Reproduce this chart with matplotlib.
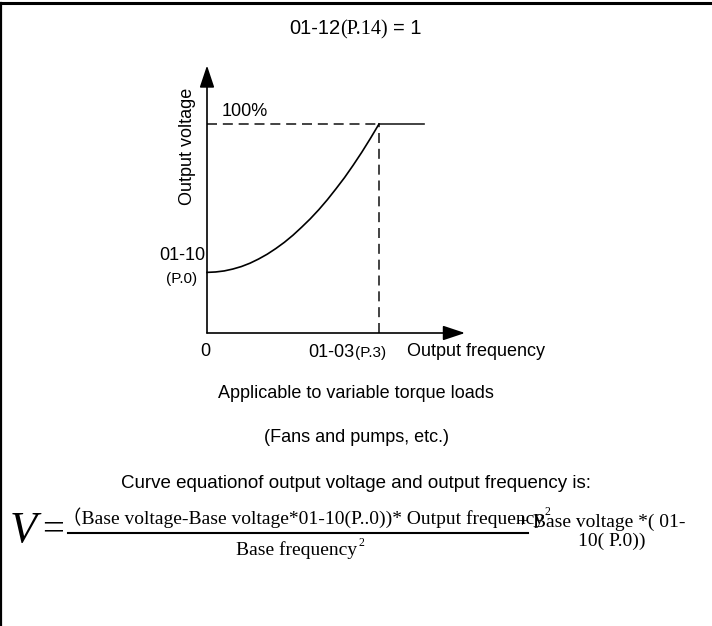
import matplotlib
matplotlib.use("Agg")
import matplotlib.pyplot as plt

W, H = 712, 626
SANS = "Liberation Sans"
SERIF = ["Liberation Serif", "Noto Sans CJK SC"]

# V/f curve: frequency as a fraction of 01-03, voltage as a fraction of 100%
freq = [0.0, 0.05, 0.1, 0.15, 0.2, 0.25, 0.3, 0.35, 0.4, 0.45, 0.5,
        0.55, 0.6, 0.65, 0.7, 0.75, 0.8, 0.85, 0.9, 0.95, 1.0]
volt = [0.29, 0.292, 0.297, 0.306, 0.318, 0.334, 0.354, 0.377, 0.404, 0.434, 0.468,
        0.506, 0.546, 0.59, 0.638, 0.69, 0.744, 0.803, 0.865, 0.931, 1.0]
boost = 0.29        # 01-10 (P.0)
base_freq = 1.0     # 01-03 (P.3)
flat_end = 1.26
x_max, y_max = 1.5, 1.28

fig = plt.figure(figsize=(W / 100, H / 100), dpi=100)
ov = fig.add_axes([0, 0, 1, 1])
ov.set_xlim(0, W)
ov.set_ylim(H, 0)
ov.axis("off")

# frame (top and left edges)
ov.plot([0, W], [3, 3], color="black", lw=2.2)
ov.plot([1, 1], [3, H], color="black", lw=1.6)

# chart area, origin at pixel (207, 333)
ox, oy = 207, 333
px_f, px_v = 172, 209
ax = fig.add_axes([ox / W, (H - oy) / H, x_max * px_f / W, y_max * px_v / H])
ax.set_xlim(0, x_max)
ax.set_ylim(0, y_max)
ax.axis("off")

arrow = dict(arrowstyle="-|>,head_length=0.9,head_width=0.3", mutation_scale=15,
             color="black", lw=1.2, shrinkA=0, shrinkB=0)
ax.annotate("", xy=(x_max, 0), xytext=(0, 0), arrowprops=arrow, annotation_clip=False)
ax.annotate("", xy=(0, y_max), xytext=(0, 0), arrowprops=arrow, annotation_clip=False)

dash = (0, (6, 3.5))
ax.plot([0, base_freq], [1, 1], color="#222222", lw=1.2, ls=dash, clip_on=False)
ax.plot([base_freq, base_freq], [0, 1], color="#222222", lw=1.2, ls=dash, clip_on=False)
ax.plot([base_freq, flat_end], [1, 1], color="#222222", lw=1.2, clip_on=False)
ax.plot(freq, volt, color="black", lw=1.2, clip_on=False)


def chain(parts, x, y, ha="center"):
    """Place text pieces side by side on one baseline; parts = (text, kwargs, dx, dy)."""
    r = fig.canvas.get_renderer()
    ts = []
    for s, kw, dx, dy in parts:
        ts.append((ov.text(0, y + dy, s, va="baseline", ha="left", **kw), dx))
    widths = [t.get_window_extent(r).width for t, _ in ts]
    total = sum(widths) + sum(dx for _, dx in ts)
    cur = x - total / 2 if ha == "center" else x
    for (t, dx), w in zip(ts, widths):
        cur += dx
        t.set_x(cur)
        cur += w


sans = dict(family=SANS, fontsize=13)
serif = dict(family=SERIF, fontsize=13)

chain([("01-12", dict(family=SANS, fontsize=14.5), 0, 0),
       ("(P.14)", dict(family=SERIF, fontsize=14.5), 0, 0),
       ("= 1", dict(family=SANS, fontsize=14.5), 5, 0)], 355, 34)

ov.text(222, 112, "100%", va="center", ha="left", **sans)
ov.text(187, 146, "Output voltage", rotation=90, va="center", ha="center", **sans)
ov.text(182, 256, "01-10", va="center", ha="center", **sans)
ov.text(182, 279, "(P.0)", va="center", ha="center", family=SANS, fontsize=11)
ov.text(205, 351, "0", va="center", ha="center", **sans)
chain([("01-03", sans, 0, 0), ("(P.3)", dict(family=SANS, fontsize=11), 0, 0)], 347, 357)
ov.text(407, 351, "Output frequency", va="center", ha="left", **sans)

ov.text(356, 393, "Applicable to variable torque loads", va="center", ha="center", **sans)
ov.text(356, 438, "(Fans and pumps, etc.)", va="center", ha="center", **sans)
ov.text(356, 484, "Curve equationof output voltage and output frequency is:",
        va="center", ha="center", family=SANS, fontsize=13.5)

# equation
eq = dict(family=SERIF, fontsize=14)
small = dict(family=SERIF, fontsize=8.5)
ov.text(10, 531, "V", va="center", ha="left", family=SERIF, style="italic", fontsize=32)
ov.text(42, 531, "=", va="center", ha="left", family=SERIF, fontsize=28)
ov.plot([68, 528], [533, 533], color="black", lw=1.5)
chain([("（Base voltage-Base voltage*01-10(P..0))* Output frequency", eq, 0, 0),
       ("2", small, 0, -9)], 306, 524)
chain([("Base frequency", eq, 0, 0), ("2", small, 1, -9)], 300, 555)
ov.text(517, 527, "+ Base voltage *( 01-", va="baseline", ha="left", **eq)
ov.text(578, 546, "10( P.0))", va="baseline", ha="left", **eq)

fig.savefig("out.png", dpi=100)
